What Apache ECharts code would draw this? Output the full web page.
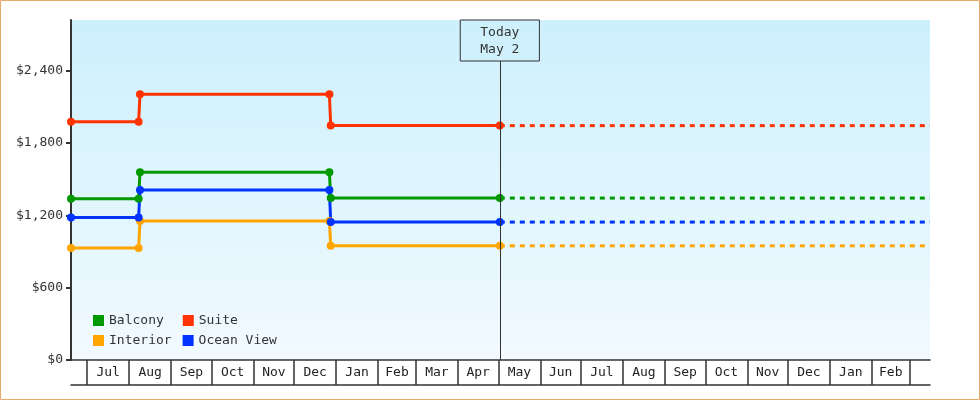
<!DOCTYPE html>
<html>
<head>
<meta charset="utf-8">
<script src="https://cdn.jsdelivr.net/npm/echarts@6/dist/echarts.min.js"></script>
<style>
  body { margin: 0; background: #fff; }
  #chart { width: 980px; height: 400px; }
</style>
</head>
<body>
<div id="chart"></div>
<script>
const FONT = "'DejaVu Sans Mono', monospace";
const utc = (s) => Date.parse(s + "T00:00:00Z");

// price history (one day apart at each change so the steps look vertical)
const priceDates = ["2021-06-19", "2021-08-08", "2021-08-09", "2021-12-27", "2021-12-28", "2022-05-02"];
const balconyPrices = [1337, 1337, 1558, 1558, 1343, 1343];
const suitePrices = [1977, 1977, 2204, 2204, 1944, 1944];
const interiorPrices = [928, 928, 1152, 1152, 947, 947];
const oceanViewPrices = [1182, 1182, 1411, 1411, 1144, 1144];

// dashed projection from today to the end of the axis
const forecastDates = ["2022-05-02", "2023-03-16"];
const todayDate = "2022-05-02";
const todayLabel = "Today\nMay 2";

const cabinNames = ["Balcony", "Suite", "Interior", "Ocean View"];
const cabinColors = ["#009900", "#ff3300", "#ffa500", "#0033ff"];
const cabinPrices = [balconyPrices, suitePrices, interiorPrices, oceanViewPrices];

// month cells under the x axis
const monthTicks = [
  "2021-07-01", "2021-08-01", "2021-09-01", "2021-10-01", "2021-11-01", "2021-12-01",
  "2022-01-01", "2022-02-01", "2022-03-01", "2022-04-01", "2022-05-01", "2022-06-01",
  "2022-07-01", "2022-08-01", "2022-09-01", "2022-10-01", "2022-11-01", "2022-12-01",
  "2023-01-01", "2023-02-01", "2023-03-01",
];
const monthNames = ["Jan", "Feb", "Mar", "Apr", "May", "Jun", "Jul", "Aug", "Sep", "Oct", "Nov", "Dec"];
const yTicks = [0, 600, 1200, 1800, 2400];

const xMin = utc(priceDates[0]);
const xMax = utc(forecastDates[forecastDates.length - 1]);
const tickValues = monthTicks.map(utc);
// one label in the middle of each full month cell
const labelValues = tickValues.slice(0, -1).map((t, i) => (t + tickValues[i + 1]) / 2);

const series = [];
cabinNames.forEach((name, i) => {
  series.push({
    name: name,
    type: "line",
    data: priceDates.map((d, j) => [utc(d), cabinPrices[i][j]]),
    symbol: "circle",
    symbolSize: 8,
    lineStyle: { width: 3, color: cabinColors[i] },
    itemStyle: { color: cabinColors[i] },
    z: 3,
  });
});
cabinNames.forEach((name, i) => {
  const last = cabinPrices[i][cabinPrices[i].length - 1];
  series.push({
    name: name,
    type: "line",
    data: forecastDates.map((d) => [utc(d), last]),
    showSymbol: false,
    lineStyle: { width: 3, color: cabinColors[i], type: [5, 5] },
    itemStyle: { color: cabinColors[i] },
    z: 2,
  });
});

// today marker
series[0].markLine = {
  silent: true,
  symbol: "none",
  animation: false,
  lineStyle: { color: "#333", width: 1, type: "solid" },
  label: {
    show: true,
    position: "end",
    distance: 0,
    formatter: todayLabel,
    color: "#333",
    fontFamily: FONT,
    fontSize: 13,
    lineHeight: 17,
    padding: [4, 20, 3, 20],
    borderColor: "#333",
    borderWidth: 1,
  },
  data: [[{ coord: [utc(todayDate), 0] }, { coord: [utc(todayDate), 2480] }]],
};

const legendBase = {
  left: 93,
  padding: 0,
  icon: "rect",
  itemWidth: 11,
  itemHeight: 11,
  textStyle: { color: "#333", fontFamily: FONT, fontSize: 13 },
};

const chart = echarts.init(document.getElementById("chart"));
chart.setOption({
  animation: false,
  textStyle: { fontFamily: FONT },
  graphic: [
    {
      type: "rect",
      shape: { x: 0.5, y: 0.5, width: 979, height: 399 },
      style: { fill: "none", stroke: "#e8aa6a", lineWidth: 1 },
      z: 100,
    },
  ],
  grid: {
    left: 71,
    right: 50,
    top: 20,
    bottom: 40,
    show: true,
    borderWidth: 0,
    backgroundColor: {
      type: "linear",
      x: 0, y: 0, x2: 0, y2: 1,
      colorStops: [
        { offset: 0, color: "#ccf0fc" },
        { offset: 1, color: "#f2faff" },
      ],
    },
  },
  legend: [
    Object.assign({}, legendBase, { data: cabinNames.slice(0, 2), top: 314, itemGap: 19 }),
    Object.assign({}, legendBase, { data: cabinNames.slice(2, 4), top: 334, itemGap: 11 }),
  ],
  xAxis: [
    {
      type: "value",
      min: xMin,
      max: xMax,
      axisLine: { lineStyle: { color: "#333", width: 1.5 } },
      axisTick: {
        show: true,
        length: 25,
        customValues: tickValues,
        lineStyle: { color: "#333", width: 1.5 },
      },
      splitLine: { show: false },
      axisLabel: {
        customValues: labelValues,
        formatter: (v) => monthNames[new Date(v).getUTCMonth()],
        color: "#222",
        fontFamily: FONT,
        fontSize: 13,
        align: "center",
        margin: 6,
      },
    },
    {
      type: "value",
      min: xMin,
      max: xMax,
      position: "bottom",
      offset: 25,
      axisLine: { lineStyle: { color: "#333", width: 1.5 } },
      axisTick: { show: false },
      axisLabel: { show: false },
      splitLine: { show: false },
    },
  ],
  yAxis: {
    type: "value",
    min: yTicks[0],
    max: 2820,
    interval: yTicks[1] - yTicks[0],
    axisLine: { show: true, lineStyle: { color: "#333", width: 2 } },
    axisTick: { show: true, length: 5, lineStyle: { color: "#333", width: 2 } },
    splitLine: { show: false },
    axisLabel: {
      color: "#333",
      fontFamily: FONT,
      fontSize: 13,
      margin: 8,
      showMaxLabel: false,
      formatter: (v) => (yTicks.includes(v) ? "$" + v.toLocaleString("en-US") : ""),
    },
  },
  series: series,
});
</script>
</body>
</html>
